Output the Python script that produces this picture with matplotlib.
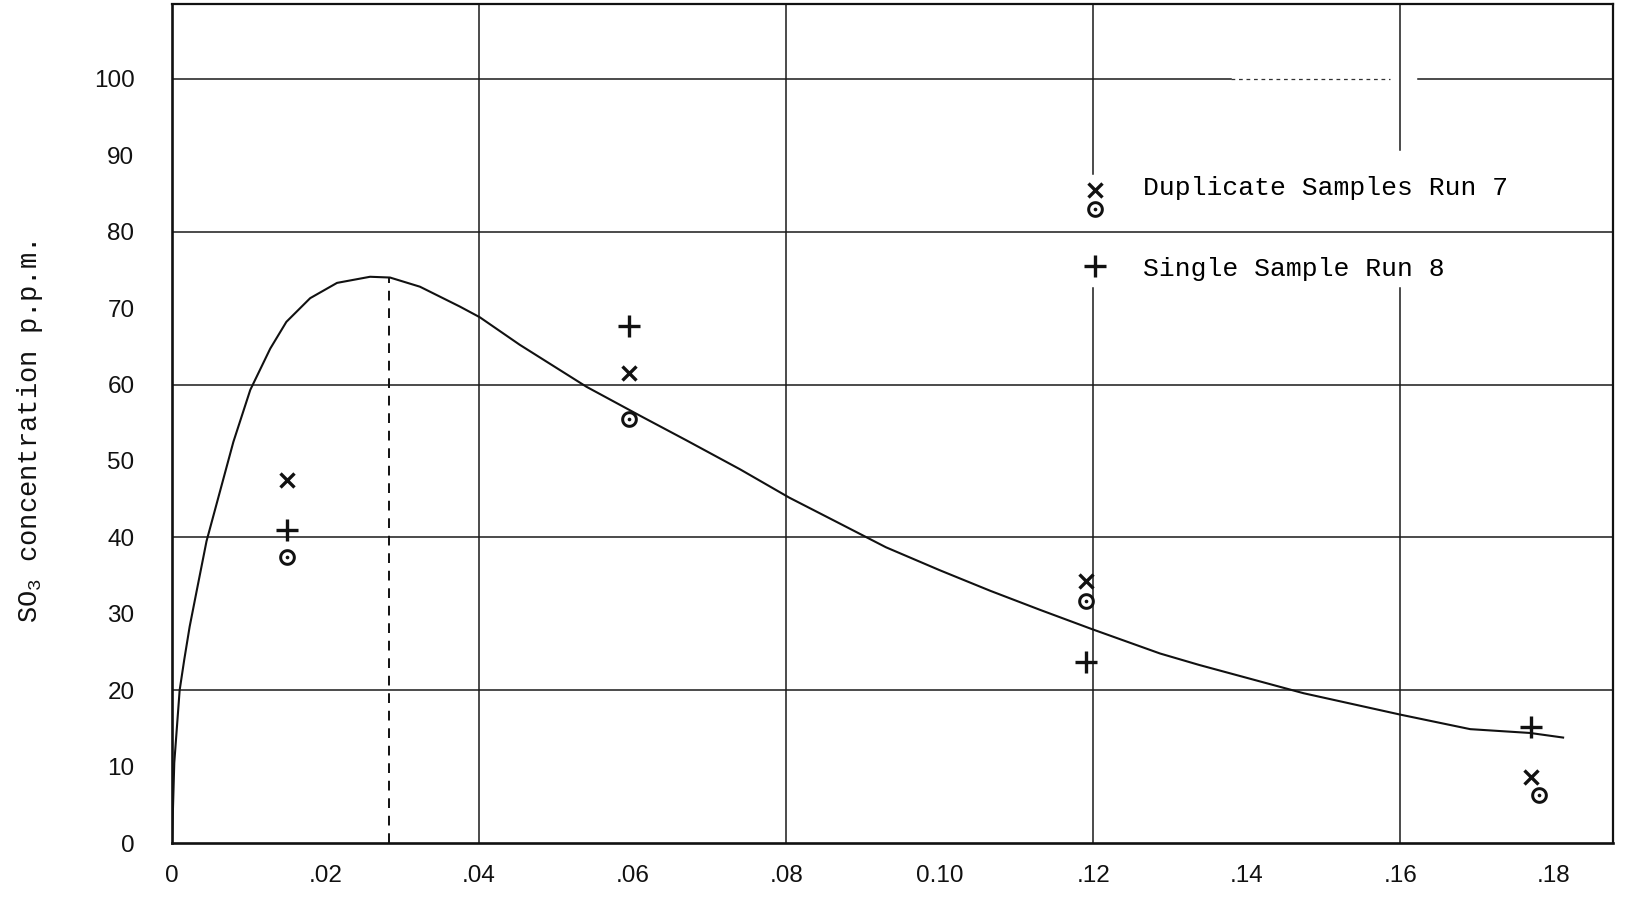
import matplotlib
matplotlib.use('Agg')
import matplotlib.pyplot as plt
import numpy as np
from matplotlib.lines import Line2D
from matplotlib.path import Path
from matplotlib.legend_handler import HandlerBase

plt.rcParams['mathtext.default'] = 'regular'

# hand drawn smooth curve
curve_x = [0.0, 0.0003, 0.001, 0.0016, 0.0023, 0.0032, 0.0045, 0.00625, 0.0080,
           0.0102, 0.0128, 0.0149, 0.0180, 0.0215, 0.0258, 0.0284, 0.0323,
           0.0375, 0.0401, 0.0453, 0.0540, 0.061, 0.067, 0.074, 0.0804, 0.087,
           0.093, 0.100, 0.1066, 0.1131, 0.1198, 0.1287, 0.1338, 0.1474, 0.160,
           0.1691, 0.1769, 0.1812]
curve_y = [0.0, 10.5, 20.0, 24.0, 28.3, 32.9, 39.5, 46.0, 52.5,
           59.3, 64.7, 68.2, 71.3, 73.3, 74.1, 74.0, 72.8,
           70.2, 68.8, 65.2, 59.7, 55.9, 52.7, 48.9, 45.2, 41.8,
           38.7, 35.7, 33.0, 30.5, 28.0, 24.8, 23.3, 19.6, 16.8,
           14.9, 14.4, 13.8]
peak_x = 0.0283

# Run 7 (duplicate samples: x and circle), Run 8 (single sample: +)
run7_x = [0.015, 0.0595, 0.119, 0.177]
run7_cross = [47.5, 61.5, 34.3, 8.6]
run7_circ_x = [0.015, 0.0595, 0.119, 0.178]
run7_circle = [37.4, 55.5, 31.7, 6.3]
run8_x = [0.015, 0.0595, 0.119, 0.177]
run8_plus = [41.0, 67.7, 23.7, 15.2]

xticks = [0, 0.02, 0.04, 0.06, 0.08, 0.10, 0.12, 0.14, 0.16, 0.18]
xtick_labels = ['0', '.02', '.04', '.06', '.08', '0.10', '.12', '.14', '.16', '.18']
yticks = [0, 10, 20, 30, 40, 50, 60, 70, 80, 90, 100]
ytick_labels = ['0', '10', '20', '30', '40', '50', '60', '70', '80', '90', '100']

ink = '#111111'
mono = ['Liberation Mono', 'DejaVu Sans Mono']
XMAX, YMAX = 0.1877, 109.8


def odot_marker():
    # ring with a dot in the middle, as one filled path
    t = np.linspace(0, 2 * np.pi, 60)
    ring = np.column_stack([np.cos(t), np.sin(t)])
    verts = np.concatenate([ring, ring[::-1] * 0.64, ring * 0.22])
    codes = ([Path.MOVETO] + [Path.LINETO] * 59) * 3
    return Path(verts, codes)


class HandlerStack(HandlerBase):
    # x above circle, like the hand written key
    def create_artists(self, legend, orig_handle, xdescent, ydescent,
                       width, height, fontsize, trans):
        xc = width / 2 - xdescent
        yc = height / 2 - ydescent
        out = []
        for h, dy in zip(orig_handle, [-0.15 * fontsize, -0.88 * fontsize]):
            ln = Line2D([xc], [yc + dy])
            ln.update_from(h)
            ln.set_data([xc], [yc + dy])
            ln.set_transform(trans)
            out.append(ln)
        return out


fig = plt.figure(figsize=(16.27, 9.02), dpi=100)
ax = fig.add_axes([0.1057, 0.0654, 0.8857, 0.9302])
ax.set_xlim(0, XMAX)
ax.set_ylim(0, YMAX)

# grid, drawn by hand so the gaps round the key can be left open
gkw = dict(color='#1a1a1a', lw=1.1, zorder=1)
for gy in [20, 40, 60, 80]:
    ax.axhline(gy, **gkw)
ax.axhline(100, xmax=0.735, **gkw)
ax.axhline(100, xmin=0.735, xmax=0.845, color='#333333', lw=0.9,
           ls=(0, (3, 3)), zorder=1)
ax.axhline(100, xmin=0.865, **gkw)
for gx in [0.04, 0.08]:
    ax.axvline(gx, **gkw)
ax.axvline(0.12, ymax=72.6 / YMAX, **gkw)
ax.axvline(0.12, ymin=87.5 / YMAX, **gkw)
ax.axvline(0.16, ymax=72.6 / YMAX, **gkw)
ax.axvline(0.16, ymin=90.7 / YMAX, **gkw)

ax.plot(curve_x, curve_y, color=ink, lw=1.5, zorder=3,
        solid_joinstyle='round')
ax.vlines(peak_x, 0, max(curve_y), color=ink, lw=1.4, ls=(0, (5, 4)), zorder=3)

cross_ln, = ax.plot(run7_x, run7_cross, ls='none', marker='x', ms=10.5,
                    mew=2.4, color=ink, zorder=4)
circ_ln, = ax.plot(run7_circ_x, run7_circle, ls='none', marker=odot_marker(),
                   ms=12, mew=0, color=ink, zorder=4)
plus_ln, = ax.plot(run8_x, run8_plus, ls='none', marker='+', ms=15.5,
                   mew=2.4, color=ink, zorder=4)

ax.legend([(cross_ln, circ_ln), plus_ln],
          ['Duplicate Samples Run 7', 'Single Sample Run 8'],
          handler_map={tuple: HandlerStack()}, numpoints=1,
          loc='upper left', bbox_to_anchor=(0.6315, 0.795), frameon=False,
          borderpad=0, borderaxespad=0, handlelength=1.0, handletextpad=1.3,
          labelspacing=2.15, prop={'family': mono, 'size': 19})

ax.set_xticks(xticks)
ax.set_xticklabels(xtick_labels, fontfamily='Liberation Sans', fontsize=17.5)
ax.set_yticks(yticks)
ax.set_yticklabels(ytick_labels, fontfamily='Liberation Sans', fontsize=17.5)
ax.tick_params(axis='x', length=0, pad=16, colors=ink)
ax.tick_params(axis='y', length=0, pad=27, colors=ink)

ax.set_ylabel('SO$_3$ concentration p.p.m.', fontfamily=mono, fontsize=19.5,
              color=ink)
ax.yaxis.set_label_coords(-0.088, 0.49)

for side in ['left', 'bottom']:
    ax.spines[side].set_linewidth(1.9)
for side in ['top', 'right']:
    ax.spines[side].set_linewidth(1.6)
for sp in ax.spines.values():
    sp.set_color(ink)

fig.savefig('out.png', dpi=100, facecolor='white')
